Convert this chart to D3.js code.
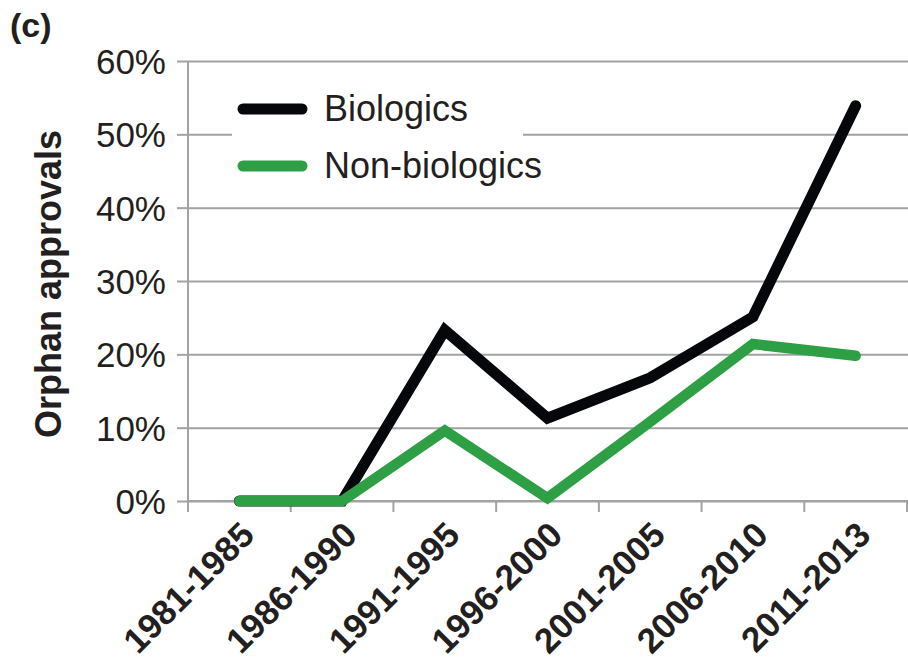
<!DOCTYPE html>
<html>
<head>
<meta charset="utf-8">
<script src="https://cdn.jsdelivr.net/npm/d3@7"></script>
<style>
  body { margin: 0; background: #fff; }
  svg { display: block; font-family: "Liberation Sans", Arial, Helvetica, sans-serif; }
</style>
</head>
<body>
<svg width="908" height="663"></svg>
<script>
// periods on the x axis
const periods = ['1981-1985', '1986-1990', '1991-1995', '1996-2000', '2001-2005', '2006-2010', '2011-2013'];
// share of orphan approvals
const biologics = [0, 0, 0.233, 0.113, 0.168, 0.251, 0.539];
const nonBiologics = [0, 0, 0.096, 0.004, 0.108, 0.214, 0.198];
const yTicks = [0, 0.1, 0.2, 0.3, 0.4, 0.5, 0.6];
const seriesNames = ['Biologics', 'Non-biologics'];

const svg = d3.select('svg');
const grey = '#a2a2a2';
const plotLeft = 188, plotRight = 907, plotTop = 61, plotBottom = 501;

const x = d3.scaleBand().domain(periods).range([plotLeft, plotRight]);
const y = d3.scaleLinear().domain([0, 0.6]).range([plotBottom, plotTop]);

//网格线
svg.append('g')
    .attr('transform', `translate(${plotLeft},0)`)
    .call(d3.axisLeft(y).tickValues(yTicks).tickSize(-(908 - plotLeft)).tickFormat(''))
    .call(g => g.select('.domain').remove())
    .selectAll('line')
    .attr('stroke', grey)
    .attr('stroke-width', 2);

//y轴
let yAxis = svg.append('g')
    .attr('transform', `translate(${plotLeft},0)`)
    .call(d3.axisLeft(y).tickValues(yTicks).tickSize(11).tickPadding(11).tickFormat(d3.format('.0%')));
yAxis.select('.domain').remove();
yAxis.selectAll('line').attr('stroke', grey).attr('stroke-width', 2);
yAxis.selectAll('text')
    .attr('font-size', 35)
    .attr('font-family', null)
    .attr('fill', '#231f20')
    .attr('dy', '0.36em');
svg.append('line')
    .attr('x1', plotLeft).attr('x2', plotLeft)
    .attr('y1', plotTop).attr('y2', plotBottom + 11)
    .attr('stroke', grey).attr('stroke-width', 2);

//x轴
svg.append('line')
    .attr('x1', plotLeft).attr('x2', 908)
    .attr('y1', plotBottom).attr('y2', plotBottom)
    .attr('stroke', grey).attr('stroke-width', 2);
let bounds = periods.map(d => x(d)).concat([plotRight]);
svg.append('g')
    .selectAll('line')
    .data(bounds)
    .enter()
    .append('line')
    .attr('x1', d => d).attr('x2', d => d)
    .attr('y1', plotBottom).attr('y2', plotBottom + 11)
    .attr('stroke', grey).attr('stroke-width', 2);
svg.append('g')
    .selectAll('text')
    .data(periods)
    .enter()
    .append('text')
    .attr('transform', d => `translate(${x(d) + x.bandwidth() / 2 + 17},537) rotate(-45)`)
    .attr('text-anchor', 'end')
    .attr('font-size', 35)
    .attr('font-weight', 'bold')
    .attr('fill', '#231f20')
    .text(d => d);

//y轴标题
svg.append('text')
    .attr('transform', 'translate(61,284) rotate(-90)')
    .attr('text-anchor', 'middle')
    .attr('font-size', 36)
    .attr('font-weight', 'bold')
    .attr('fill', '#231f20')
    .text('Orphan approvals');

svg.append('text')
    .attr('x', 10).attr('y', 37)
    .attr('font-size', 34)
    .attr('font-weight', 'bold')
    .attr('fill', '#231f20')
    .text('(c)');

//折线
const line = d3.line()
    .x((d, i) => x(periods[i]) + x.bandwidth() / 2)
    .y(d => y(d));
svg.append('path')
    .datum(biologics)
    .attr('d', line)
    .attr('fill', 'none')
    .attr('stroke', '#05070b')
    .attr('stroke-width', 11)
    .attr('stroke-linecap', 'round')
    .attr('stroke-linejoin', 'miter');
svg.append('path')
    .datum(nonBiologics)
    .attr('d', line)
    .attr('fill', 'none')
    .attr('stroke', '#2e9f45')
    .attr('stroke-width', 10.5)
    .attr('stroke-linecap', 'round')
    .attr('stroke-linejoin', 'miter');

//图例
svg.append('rect')
    .attr('x', 232).attr('y', 82)
    .attr('width', 291).attr('height', 106)
    .attr('fill', '#fff');
let legend = svg.append('g')
    .selectAll('g')
    .data(seriesNames)
    .enter()
    .append('g')
    .attr('transform', (d, i) => `translate(0,${109 + i * 57})`);
legend.append('line')
    .attr('x1', 243).attr('x2', 302)
    .attr('stroke', (d, i) => i === 0 ? '#05070b' : '#2e9f45')
    .attr('stroke-width', 11)
    .attr('stroke-linecap', 'round');
legend.append('text')
    .attr('x', 324)
    .attr('y', 12)
    .attr('font-size', 36)
    .attr('fill', '#231f20')
    .text(d => d);
</script>
</body>
</html>
